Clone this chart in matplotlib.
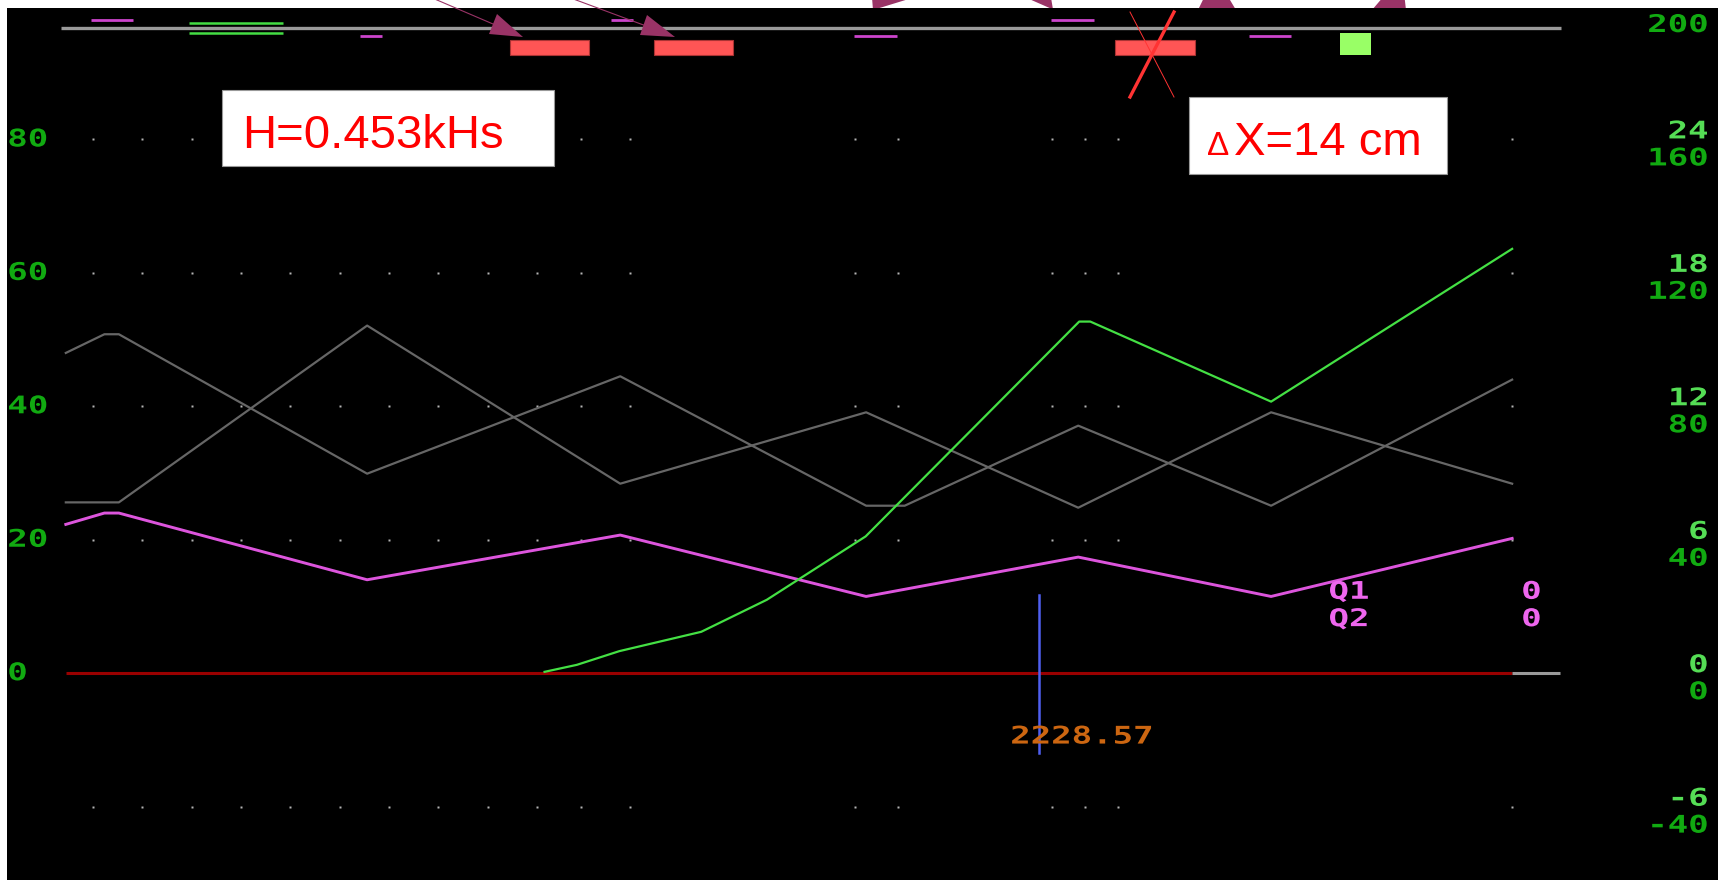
import matplotlib
matplotlib.use("Agg")
import matplotlib.pyplot as plt
from matplotlib.patches import Rectangle, Polygon
from matplotlib.lines import Line2D
from matplotlib.patheffects import AbstractPathEffect
from matplotlib.transforms import Affine2D, blended_transform_factory, offset_copy

W, H = 1718, 880

# traces: x in samples, y in left-scale units
t_a = [0, 0.8, 1.1, 6.25, 11.5, 16.6, 17.4, 21.0, 25.0, 30.0]
trace_a = [48.0, 50.8, 50.8, 29.9, 44.5, 25.1, 25.1, 37.1, 25.1, 44.0]
t_b = [0, 1.1, 6.25, 11.5, 16.6, 21.0, 25.0, 30.0]
trace_b = [25.6, 25.6, 52.1, 28.4, 39.1, 24.8, 39.1, 28.4]
t_m = [0, 0.8, 1.1, 6.25, 11.5, 16.6, 21.0, 25.0, 30.0]
trace_m = [22.3, 24.0, 24.0, 14.0, 20.7, 11.5, 17.4, 11.5, 20.2]
# green trace on the right (x2) scale
t_g = [9.93, 10.6, 11.48, 13.18, 14.54, 16.59, 21.02, 21.25, 25.0, 30.0]
trace_g = [0.4, 2.5, 6.6, 12.4, 22.0, 41.0, 105.4, 105.4, 81.4, 127.2]

cursor_t = 20.19
cursor_label = "2228.57"
q_labels = ["Q1", "Q2"]
q_values = [0, 0]

# status strip along the top
strip_y = 96.7
ticks_hi = [(0.52, 1.39), (11.31, 11.76), (20.44, 21.33)]
ticks_lo = [(6.10, 6.55), (16.35, 17.24), (24.54, 25.41)]
green_pair = (2.56, 4.51)
red_blocks = [(9.21, 10.85), (12.2, 13.84), (21.76, 23.42)]
green_block = (26.43, 27.07)

left_ticks = [80, 60, 40, 20, 0]
right_outer = [200, 160, 120, 80, 40, 0, -40]
right_inner = [24, 18, 12, 6, 0, -6]
dot_rows = [80, 60, 40, 20, -20]
dot_cols = [0.57, 1.59, 2.61, 3.64, 4.66, 5.68, 6.70, 7.73, 8.75, 9.77,
            10.68, 11.70, 16.36, 17.27, 20.45, 21.14, 21.82, 30.0]


class Stretch(AbstractPathEffect):
    """widen glyphs horizontally, like an old terminal font"""
    def __init__(self, sx, anchor="left"):
        super().__init__()
        self.sx = sx
        self.anchor = anchor

    def draw_path(self, renderer, gc, tpath, affine, rgbFace=None):
        ext = tpath.get_extents()
        x0 = {"left": ext.x0, "right": ext.x1, "center": (ext.x0 + ext.x1) / 2}[self.anchor]
        st = Affine2D().translate(-x0, 0).scale(self.sx, 1).translate(x0, 0)
        renderer.draw_path(gc, tpath, st + affine, rgbFace)


def term_text(ax, x, y, s, color, ha="left", transform=None):
    ax.text(x, y, s, color=color, ha=ha, va="center", fontsize=17.5,
            family="DejaVu Sans Mono", weight="bold",
            transform=transform if transform is not None else ax.transData,
            path_effects=[Stretch(1.4, ha)], clip_on=False)


def fp(x, y):
    return (x / W, 1 - y / H)


fig = plt.figure(figsize=(W / 100, H / 100), dpi=100, facecolor="white")
ax = fig.add_axes([7 / W, 0, (W - 7) / W, (H - 8) / H])
ax.set_facecolor("black")
ax.set_xlim(-1.22, 34.27)
ax.set_ylim(-31.0, 99.7)
ax.set_axis_off()
ax.add_patch(Rectangle((0, 0), 1, 1, transform=ax.transAxes, fc="black", zorder=0))

ax2 = ax.twinx()
ax2.set_ylim(-62.0, 199.4)
ax2.set_axis_off()

# dotted grid
for r in dot_rows:
    ax.plot(dot_cols, [r] * len(dot_cols), ls="none", marker="s", ms=2.0,
            color="#b4b4b4", mec="none")

# zero line
ax.plot([0, 30], [0, 0], color="#990000", lw=2.2, solid_capstyle="butt")
ax.plot([30, 31.0], [0, 0], color="#9a9a9a", lw=2.2, solid_capstyle="butt")

ax.plot(t_a, trace_a, color="#666666", lw=1.6)
ax.plot(t_b, trace_b, color="#666666", lw=1.6)
ax.plot(t_m, trace_m, color="#dd55dd", lw=2.1)
ax2.plot(t_g, trace_g, color="#44e044", lw=1.6)

# cursor
ax.plot([cursor_t, cursor_t], [11.7, -12.0], color="#4f5ff0", lw=1.8)
term_text(ax, 19.6, -9.5, cursor_label, "#cc6611")

# status strip
ax.plot([-0.1, 31.01], [strip_y, strip_y], color="#9a9a9a", lw=2.4, solid_capstyle="butt")
for a, b in ticks_hi:
    ax.plot([a, b], [97.95, 97.95], color="#cc44cc", lw=2.0, solid_capstyle="butt")
for a, b in ticks_lo:
    ax.plot([a, b], [95.55, 95.55], color="#cc44cc", lw=2.0, solid_capstyle="butt")
for yy in (97.5, 95.95):
    ax.plot(green_pair, [yy, yy], color="#44dd44", lw=1.8, solid_capstyle="butt")
for a, b in red_blocks:
    ax.add_patch(Rectangle((a, 92.66), b - a, 94.9 - 92.66, fc="#ff5555",
                           ec="#aa3333", lw=0.8, zorder=3))
ax.add_patch(Rectangle((green_block[0], 92.66), green_block[1] - green_block[0],
                       95.9 - 92.66, fc="#99ff66", ec="none", zorder=3))

# Q labels
for i, (lab, val) in enumerate(zip(q_labels, q_values)):
    yy = 12.2 - 4.1 * i
    term_text(ax, 26.2, yy, lab, "#ee66ee")
    term_text(ax, 30.2, yy, str(val), "#ee66ee")

# axis labels
bl = blended_transform_factory(ax.transAxes, ax.transData)
for v in left_ticks:
    term_text(ax, 0.0005, v, str(v), "#11aa11", transform=bl)
bl2 = blended_transform_factory(ax.transAxes, ax2.transData)
for v in right_outer:
    term_text(ax, 0.9942, v, str(v), "#11aa11", ha="right",
              transform=offset_copy(bl2, fig=fig, y=-19, units="dots"))
for v in right_inner:
    term_text(ax, 0.9942, v / 0.3, str(v), "#55dd55", ha="right",
              transform=offset_copy(bl, fig=fig, y=8, units="dots"))

# arrowheads tucked behind the panel
for pts in ([(873, 10), (871, -15), (912, -2)],
            [(1053, 9.5), (1020, -5), (1048, -20)],
            [(1198, 10), (1236, 10), (1215, -25)],
            [(1372, 10), (1406, 10), (1402, -25)]):
    fig.add_artist(Polygon([fp(*p) for p in pts], closed=True, fc="#993366",
                           ec="none", transform=fig.transFigure, zorder=-1))

# arrows on top
for start, tip, base in (((430, -3), (523, 37), [(497, 14), (489, 34)]),
                         ((568, -3), (675, 37), [(647, 15), (640, 35)])):
    bx = (base[0][0] + base[1][0]) / 2
    by = (base[0][1] + base[1][1]) / 2
    fig.add_artist(Line2D([fp(*start)[0], fp(bx, by)[0]], [fp(*start)[1], fp(bx, by)[1]],
                          color="#993366", lw=0.8, transform=fig.transFigure, zorder=5))
    fig.add_artist(Polygon([fp(*tip), fp(*base[0]), fp(*base[1])], closed=True,
                           fc="#993366", ec="none", transform=fig.transFigure, zorder=5))

# cross over the third block
fig.add_artist(Line2D([fp(1174, 12)[0], fp(1130, 97)[0]], [fp(1174, 12)[1], fp(1130, 97)[1]],
                      color="#ff3333", lw=2.4, transform=fig.transFigure, zorder=5))
fig.add_artist(Line2D([fp(1130, 12)[0], fp(1174, 97)[0]], [fp(1130, 12)[1], fp(1174, 97)[1]],
                      color="#ff3333", lw=0.7, transform=fig.transFigure, zorder=5))

# note boxes
for (x0, y0, x1, y1) in ((222, 90, 554, 166), (1189, 97, 1447, 174)):
    fig.add_artist(Rectangle(fp(x0, y1), (x1 - x0) / W, (y1 - y0) / H, fc="white",
                             ec="#999999", lw=0.8, transform=fig.transFigure, zorder=6))
fig.text(*fp(242, 148), "H=0.453kHs", color="red", fontsize=34, family="Liberation Sans",
         va="baseline", zorder=7)
fig.text(*fp(1207, 155), "\u0394", color="red", fontsize=24, family="Liberation Sans",
         va="baseline", zorder=7)
fig.text(*fp(1234, 155), "X=14 cm", color="red", fontsize=34, family="Liberation Sans",
         va="baseline", zorder=7)

fig.savefig("out.png", dpi=100, facecolor="white")
